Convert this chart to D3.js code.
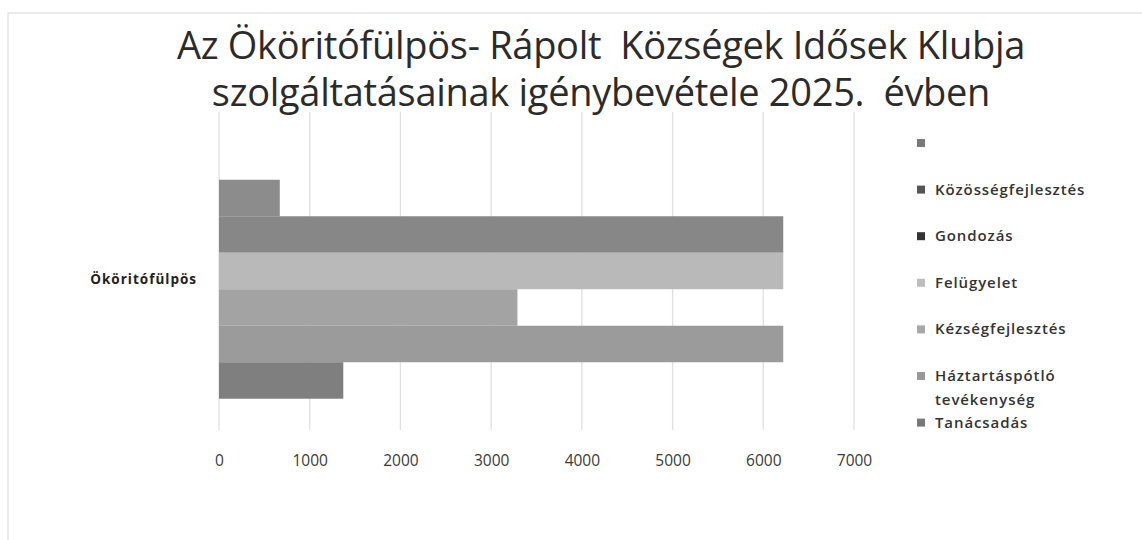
<!DOCTYPE html>
<html>
<head>
<meta charset="utf-8">
<script src="https://cdn.jsdelivr.net/npm/d3@7"></script>
<style>
  body { margin: 0; background: #fff; }
  svg { display: block; }
  text { white-space: pre; }
</style>
</head>
<body>
<div id="chart"></div>
<script>
// data
var categories = ["Ököritófülpös"];
var series = ["", "Közösségfejlesztés", "Gondozás", "Felügyelet", "Kézségfejlesztés", "Háztartáspótló tevékenység", "Tanácsadás"];
var values = [0, 670, 6220, 6220, 3290, 6220, 1370];
var ticks = [0, 1000, 2000, 3000, 4000, 5000, 6000, 7000];
var titleLines = ["Az Ököritófülpös- Rápolt  Községek Idősek Klubja", "szolgáltatásainak igénybevétele 2025.  évben"];

var barColors = ["#7a7a7a", "#8c8c8c", "#878787", "#b9b9b9", "#a3a3a3", "#9b9b9b", "#7f7f7f"];
var markerColors = ["#7a7a7a", "#555555", "#333333", "#bdbdbd", "#a8a8a8", "#999999", "#777777"];

(function () {
    var width = 1142,
        height = 540;

    var svg = d3.select("#chart")
        .append("svg")
        .attr("width", width)
        .attr("height", height);

    // faint frame of the scanned page
    svg.append("path")
        .attr("d", "M8,540 V13 H1142")
        .attr("fill", "none")
        .attr("stroke", "#e4e4e4")
        .attr("stroke-width", 1.5);

    var x = d3.scaleLinear().domain([0, 7000]).range([219, 854]);
    var y = d3.scaleBand().domain(categories).range([112, 430]);
    var ySeries = d3.scaleBand()
        .domain(series.map(function (d, i) { return i; }))
        .range([0, y.bandwidth()])
        .paddingInner(0)
        .paddingOuter(0.857);

    // title
    svg.append("text")
        .attr("text-anchor", "middle")
        .attr("font-family", "'Open Sans', sans-serif")
        .attr("font-size", 38)
        .attr("letter-spacing", -0.3)
        .attr("fill", "#2b2b2b")
        .selectAll("tspan")
        .data(titleLines)
        .enter().append("tspan")
        .attr("x", 601)
        .attr("y", function (d, i) { return 59 + i * 47; })
        .text(function (d) { return d; });

    // gridlines
    svg.append("g")
        .selectAll("line")
        .data(ticks)
        .enter().append("line")
        .attr("x1", function (d) { return x(d); })
        .attr("x2", function (d) { return x(d); })
        .attr("y1", 112)
        .attr("y2", 430)
        .attr("stroke", "#e0e0e0")
        .attr("stroke-width", 1.3);

    // x axis tick labels
    var xAxis = d3.axisBottom(x).tickValues(ticks).tickSize(0).tickPadding(0).tickFormat(d3.format("d"));
    var gx = svg.append("g")
        .attr("transform", "translate(0,455)")
        .call(xAxis);
    gx.select(".domain").remove();
    gx.selectAll("text")
        .attr("font-family", "'Open Sans', sans-serif")
        .attr("font-size", 15.5)
        .attr("fill", "#3a3a3a");

    // category label
    var yAxis = d3.axisLeft(y).tickSize(0).tickPadding(0);
    var gy = svg.append("g")
        .attr("transform", "translate(197,9)")
        .call(yAxis);
    gy.select(".domain").remove();
    gy.selectAll("text")
        .attr("font-family", "'Open Sans', sans-serif")
        .attr("font-weight", "bold")
        .attr("font-size", 13.5)
        .attr("letter-spacing", 1)
        .attr("fill", "#222");

    // bars
    svg.append("g")
        .selectAll("rect")
        .data(values)
        .enter().append("rect")
        .attr("x", x(0))
        .attr("y", function (d, i) { return y(categories[0]) + ySeries(i); })
        .attr("width", function (d) { return x(d) - x(0); })
        .attr("height", ySeries.bandwidth())
        .attr("fill", function (d, i) { return barColors[i]; });

    // legend
    var legend = svg.append("g")
        .selectAll("g")
        .data(series)
        .enter().append("g")
        .attr("transform", function (d, i) { return "translate(917," + (143 + i * 46.6) + ")"; });

    legend.append("rect")
        .attr("x", 0)
        .attr("y", -4)
        .attr("width", 8)
        .attr("height", 8)
        .attr("fill", function (d, i) { return markerColors[i]; });

    legend.append("text")
        .attr("font-family", "'Open Sans', sans-serif")
        .attr("font-size", 15)
        .attr("font-weight", 600)
        .attr("letter-spacing", 0.9)
        .attr("fill", "#333")
        .selectAll("tspan")
        .data(function (d) {
            return d === "Háztartáspótló tevékenység" ? ["Háztartáspótló", "tevékenység"] : [d];
        })
        .enter().append("tspan")
        .attr("x", 18)
        .attr("y", function (d, i) { return 5 + i * 24; })
        .text(function (d) { return d; });
})();
</script>
</body>
</html>
